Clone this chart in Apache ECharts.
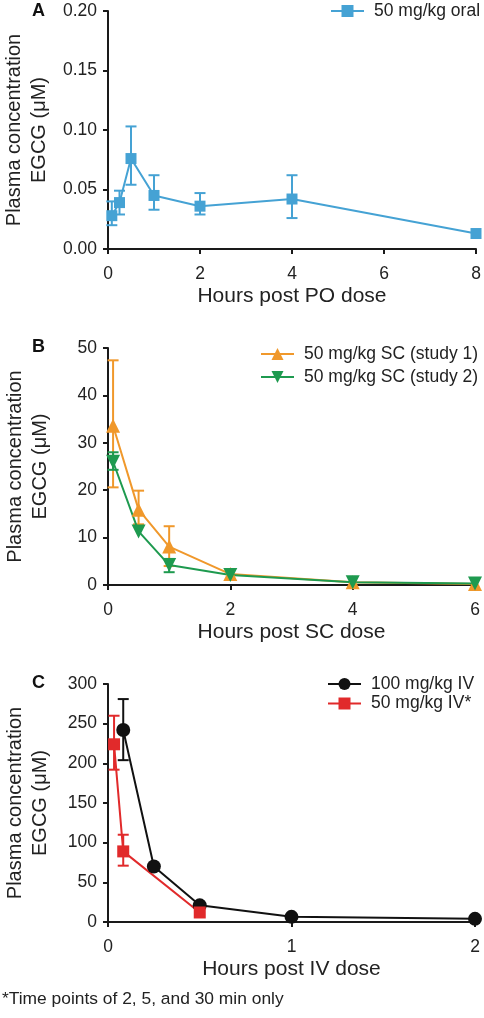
<!DOCTYPE html>
<html>
<head>
<meta charset="utf-8">
<script src="https://cdn.jsdelivr.net/npm/echarts@6/dist/echarts.min.js"></script>
<style>
html,body{margin:0;padding:0;background:#fff;}
#chart{width:484px;height:1018px;}
</style>
</head>
<body>
<div id="chart"></div>
<script>
// ---------- DATA ----------
// Panel A: 50 mg/kg oral
const timeOral = [0.083, 0.25, 0.5, 1, 2, 4, 8];
const oralMean = [0.028, 0.039, 0.076, 0.045, 0.036, 0.042, 0.013];
const oralLow  = [0.020, 0.029, 0.054, 0.033, 0.029, 0.026, null];
const oralHigh = [0.040, 0.049, 0.103, 0.062, 0.047, 0.062, null];

// Panel B: 50 mg/kg SC
const timeSC = [0.083, 0.5, 1, 2, 4, 6];
const sc1Mean = [33.6, 15.9, 8.1, 2.3, 0.6, 0.2];
const sc1Low  = [20.6, 12.8, 4.0, null, null, null];
const sc1High = [47.4, 19.9, 12.4, null, null, null];
const sc2Mean = [26.0, 11.3, 4.2, 2.1, 0.6, 0.3];
const sc2Low  = [24.3, null, 2.7, null, null, null];
const sc2High = [28.0, null, 5.5, null, null, null];

// Panel C: IV
const timeIV100 = [0.083, 0.25, 0.5, 1, 2];
const iv100Mean = [242, 70, 21, 6.5, 4];
const iv100Low  = [204, null, null, null, null];
const iv100High = [281, null, null, null, null];
const timeIV50 = [0.033, 0.083, 0.5];
const iv50Mean = [224, 89, 12];
const iv50Low  = [192, 71, null];
const iv50High = [260, 110, null];

const seriesNames = ['50 mg/kg oral', '50 mg/kg SC (study 1)', '50 mg/kg SC (study 2)', '100 mg/kg IV', '50 mg/kg IV*'];
const xTitles = ['Hours post PO dose', 'Hours post SC dose', 'Hours post IV dose'];
const yTitle = 'Plasma concentration\nEGCG (\u03bcM)';
const panelLetters = ['A', 'B', 'C'];
const footnote = '*Time points of 2, 5, and 30 min only';

// ---------- CHART ----------
const FONT = '"Liberation Sans", Arial, Helvetica, sans-serif';
const AX = '#1a1a1a';
const COLORS = {oral:'#45a2d4', sc1:'#f0982b', sc2:'#1e9a4f', iv100:'#111111', iv50:'#e12a2b'};

function pairs(xs, ys){ return xs.map((x,i)=>[x, ys[i]]); }
function errs(xs, lo, hi){
  const out = [];
  xs.forEach((x,i)=>{ if(lo[i]!=null && hi[i]!=null) out.push([x, lo[i], hi[i]]); });
  return out;
}
function errSeries(idx, data, color){
  return {
    type:'custom', xAxisIndex:idx, yAxisIndex:idx, data:data, z:3,
    encode:{x:0, y:[1,2]},
    renderItem:function(params, api){
      const x = api.value(0);
      const top = api.coord([x, api.value(2)]);
      const bot = api.coord([x, api.value(1)]);
      const w = 5.5;
      const st = {stroke:color, lineWidth:2};
      return {type:'group', children:[
        {type:'line', shape:{x1:top[0], y1:top[1], x2:bot[0], y2:bot[1]}, style:st},
        {type:'line', shape:{x1:top[0]-w, y1:top[1], x2:top[0]+w, y2:top[1]}, style:st},
        {type:'line', shape:{x1:bot[0]-w, y1:bot[1], x2:bot[0]+w, y2:bot[1]}, style:st}
      ]};
    }
  };
}
function lineSeries(idx, name, data, color, symbol, size, rot){
  return {
    type:'line', name:name, xAxisIndex:idx, yAxisIndex:idx, data:data,
    symbol:symbol, symbolSize:size, symbolRotate:rot||0, showSymbol:true,
    itemStyle:{color:color, opacity:1}, lineStyle:{color:color, width:2},
    z:4, animation:false
  };
}
function xAxis(idx, max, interval, title){
  return {
    type:'value', gridIndex:idx, min:0, max:max, interval:interval,
    name:title, nameLocation:'middle', nameGap:37,
    nameTextStyle:{fontSize:21, color:'#222', fontFamily:FONT},
    axisLine:{show:true, onZero:false, lineStyle:{color:AX, width:2}},
    axisTick:{show:true, length:5, lineStyle:{color:AX, width:2}},
    axisLabel:{fontSize:17.5, color:'#222', fontFamily:FONT, margin:16},
    splitLine:{show:false}
  };
}
function yAxis(idx, max, interval, fmt){
  return {
    type:'value', gridIndex:idx, min:0, max:max, interval:interval,
    name:yTitle, nameLocation:'middle', nameGap:55, nameRotate:90,
    nameTextStyle:{fontSize:20, color:'#222', fontFamily:FONT, lineHeight:25},
    axisLine:{show:true, lineStyle:{color:AX, width:2}},
    axisTick:{show:true, length:5, lineStyle:{color:AX, width:2}},
    axisLabel:{fontSize:17.5, color:'#222', fontFamily:FONT, margin:11, formatter:fmt},
    splitLine:{show:false}
  };
}
function legend(names, left, top, gap){
  return {
    data:names, left:left, top:top, orient:'vertical', itemGap:gap, padding:0,
    itemWidth:33, itemHeight:15,
    textStyle:{fontSize:17.5, color:'#222', fontFamily:FONT, padding:[0,0,0,5]}
  };
}

const chart = echarts.init(document.getElementById('chart'), null, {renderer:'canvas'});
const option = {
  animation:false,
  backgroundColor:'#fff',
  grid:[
    {left:108, top:11, width:368, height:238, outerBoundsMode:'none', containLabel:false},
    {left:108, top:348, width:367, height:237, outerBoundsMode:'none', containLabel:false},
    {left:108, top:684, width:367, height:238, outerBoundsMode:'none', containLabel:false}
  ],
  xAxis:[
    xAxis(0, 8, 2, xTitles[0]),
    xAxis(1, 6, 2, xTitles[1]),
    xAxis(2, 2, 1, xTitles[2])
  ],
  yAxis:[
    yAxis(0, 0.2, 0.05, v=>v.toFixed(2)),
    yAxis(1, 50, 10, v=>String(v)),
    yAxis(2, 300, 50, v=>String(v))
  ],
  legend:[
    legend([seriesNames[0]], 330, 2, 5),
    legend([seriesNames[1], seriesNames[2]], 260, 345, 5),
    legend([seriesNames[3], seriesNames[4]], 327, 675, 1.5)
  ],
  graphic:[
    {type:'text', left:32, top:2, style:{text:panelLetters[0], font:'bold 18px '+FONT, fill:'#111'}},
    {type:'text', left:32, top:338, style:{text:panelLetters[1], font:'bold 18px '+FONT, fill:'#111'}},
    {type:'text', left:32, top:674, style:{text:panelLetters[2], font:'bold 18px '+FONT, fill:'#111'}},
    {type:'text', left:2, top:991, style:{text:footnote, font:'17.4px '+FONT, fill:'#222'}}
  ],
  series:[
    errSeries(0, errs(timeOral, oralLow, oralHigh), COLORS.oral),
    lineSeries(0, seriesNames[0], pairs(timeOral, oralMean), COLORS.oral, 'rect', 11),
    errSeries(1, errs(timeSC, sc1Low, sc1High), COLORS.sc1),
    lineSeries(1, seriesNames[1], pairs(timeSC, sc1Mean), COLORS.sc1, 'triangle', 14),
    errSeries(1, errs(timeSC, sc2Low, sc2High), COLORS.sc2),
    lineSeries(1, seriesNames[2], pairs(timeSC, sc2Mean), COLORS.sc2, 'triangle', 14, 180),
    errSeries(2, errs(timeIV100, iv100Low, iv100High), COLORS.iv100),
    lineSeries(2, seriesNames[3], pairs(timeIV100, iv100Mean), COLORS.iv100, 'circle', 14),
    errSeries(2, errs(timeIV50, iv50Low, iv50High), COLORS.iv50),
    lineSeries(2, seriesNames[4], pairs(timeIV50, iv50Mean), COLORS.iv50, 'rect', 12)
  ]
};
chart.setOption(option);
</script>
</body>
</html>
